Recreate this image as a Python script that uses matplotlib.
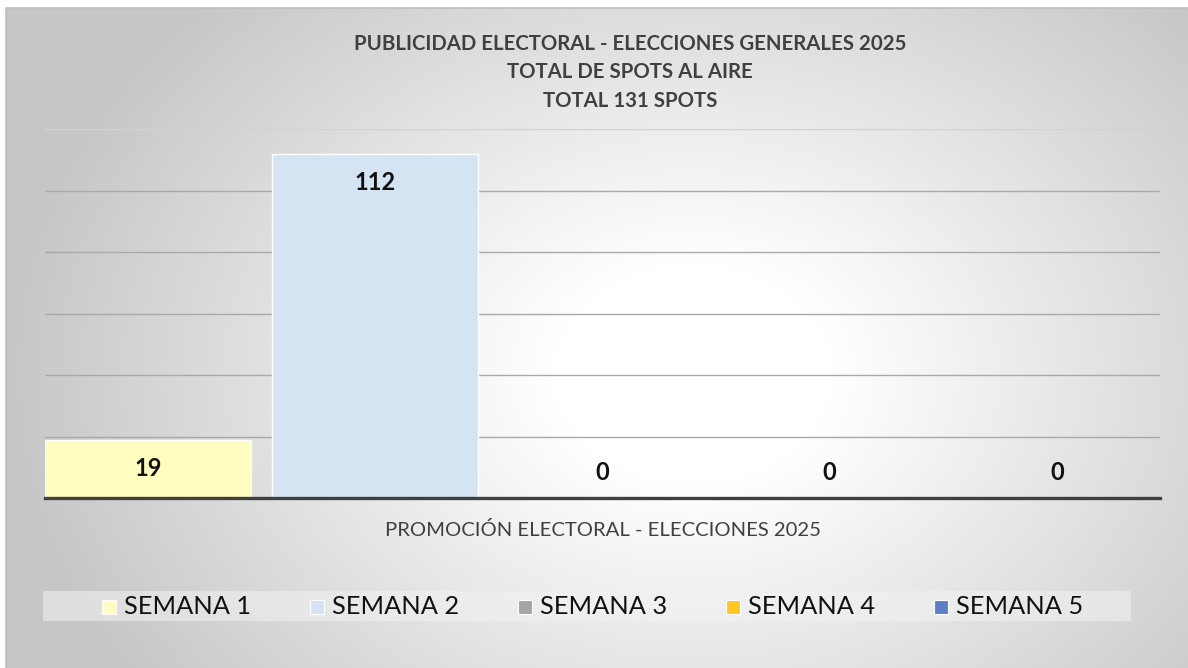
import numpy as np
import matplotlib
matplotlib.use("Agg")
import matplotlib.pyplot as plt
from matplotlib.patches import Rectangle

plt.rcParams['font.family'] = ['Lato', 'DejaVu Sans']

# data
series = ['SEMANA 1', 'SEMANA 2', 'SEMANA 3', 'SEMANA 4', 'SEMANA 5']
spots = [19, 112, 0, 0, 0]
colors = ['#FFFDBF', '#D4E4F3', '#A5A5A5', '#FFC825', '#5B80C6']
title_lines = ['PUBLICIDAD ELECTORAL - ELECCIONES GENERALES 2025',
               'TOTAL DE SPOTS AL AIRE',
               'TOTAL 131 SPOTS']
xlabel = 'PROMOCIÓN ELECTORAL - ELECCIONES 2025'

W, H = 1188, 668
fig = plt.figure(figsize=(W / 100, H / 100), dpi=100)

# background with radial gradient
bg = fig.add_axes([0, 0, 1, 1], zorder=-10)
bg.set_xlim(0, W)
bg.set_ylim(H, 0)
bg.axis('off')
yy, xx = np.mgrid[0:H, 0:W]
t = np.sqrt(((xx - 690) / 640.0) ** 2 + ((yy - 370) / 500.0) ** 2)
v = 1.0 - 0.22 * np.clip((t - 0.22) / 0.85, 0, 1)
img = np.dstack([v, v, v])
bg.imshow(img, extent=(6, W, H, 8), aspect='auto', interpolation='bilinear')
bg.plot([6, 6, W], [H, 8, 8], color='#bfbfbf', lw=1.2)

ax = fig.add_axes([45 / W, 1 - 498 / H, (1160 - 45) / W, (498 - 129) / H])
ax.patch.set_alpha(0)
x = np.arange(len(series))
bars = ax.bar(x, spots, width=0.907, color=colors, edgecolor='white', linewidth=1.0, zorder=3)
ax.set_xlim(-0.4535, 4.4535)
ax.set_ylim(0, 120)
ax.set_yticks(np.arange(20, 121, 20))
ax.yaxis.grid(True, color='#a9a9a9', linewidth=1.0, zorder=0)
ax.get_ygridlines()[-1].set_color('#d2d2d2')
ax.set_axisbelow(True)
ax.tick_params(left=False, bottom=False, labelleft=False, labelbottom=False)
for s in ['top', 'left', 'right']:
    ax.spines[s].set_visible(False)
ax.spines['bottom'].set_color('#404040')
ax.spines['bottom'].set_linewidth(2.4)
ax.spines['bottom'].set_zorder(5)

for xi, val in zip(x, spots):
    if val > 50:
        ypos = val - 9.5
    elif val > 0:
        ypos = val / 2
    else:
        ypos = 8.2
    ax.text(xi, ypos, str(val), ha='center', va='center', fontsize=17,
            fontweight='bold', color='#111111', zorder=6)

# titles
for i, line in enumerate(title_lines):
    fig.text(630 / W, 1 - (44 + 28.5 * i) / H, line, ha='center', va='center',
             fontsize=14.7, fontweight='bold', color='#404040')

fig.text(603 / W, 1 - 530 / H, xlabel, ha='center', va='center',
         fontsize=14.6, color='#404040')

# legend band
fig.patches.append(Rectangle((43 / W, 1 - 621 / H), (1131 - 43) / W, 30 / H,
                             transform=fig.transFigure, facecolor='#f2f2f2',
                             alpha=0.55, edgecolor='none', zorder=1))
for i, (name, c) in enumerate(zip(series, colors)):
    mx = 102 + 208 * i
    fig.patches.append(Rectangle((mx / W, 1 - 614 / H), 14 / W, 14 / H,
                                 transform=fig.transFigure, facecolor=c,
                                 edgecolor='white', linewidth=0.8, zorder=2))
    fig.text((mx + 22) / W, 1 - 607 / H, name, ha='left', va='center',
             fontsize=18.3, color='#111111')

fig.savefig('out.png', dpi=100)
